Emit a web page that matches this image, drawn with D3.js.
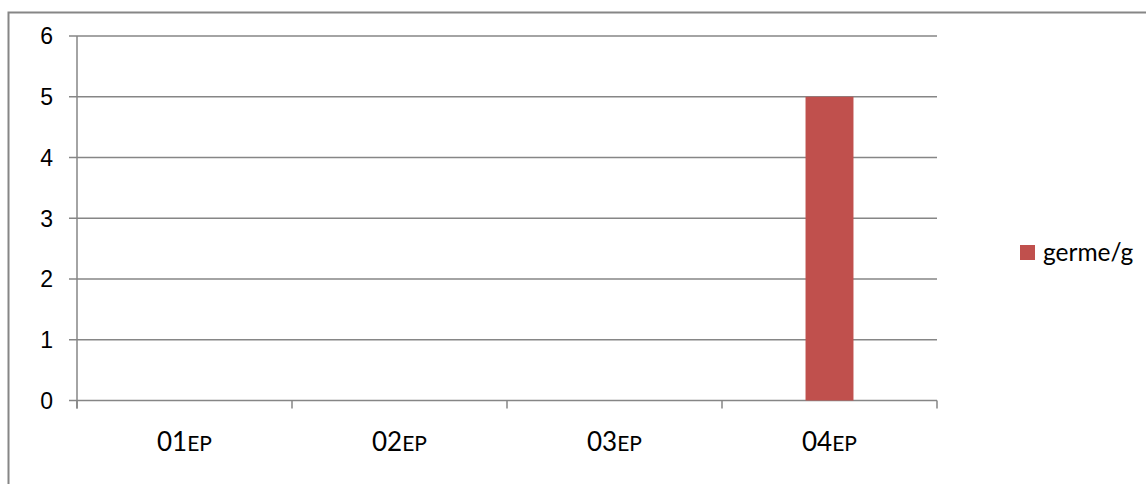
<!DOCTYPE html>
<html>
<head>
<meta charset="utf-8">
<script src="https://cdn.jsdelivr.net/npm/d3@7"></script>
<style>
  html, body { margin: 0; padding: 0; background: #fff; }
  svg { display: block; }
</style>
</head>
<body>
<svg id="chart" width="1146" height="484"></svg>
<script>
// Sample codes and their germ counts
const categories = ["01", "02", "03", "04"];
const categorySuffix = "EP";
const germCounts = [0, 0, 0, 5];
const seriesName = "germe/g";
const yTicks = [0, 1, 2, 3, 4, 5, 6];

const svg = d3.select("#chart");
const W = 1146, H = 484;
const plot = { left: 77, right: 937, top: 36, bottom: 400.5 };
const gridColor = "#868686";
const barColor = "#C0504D";

// Outer chart frame
svg.append("rect")
  .attr("x", 8.5).attr("y", 12.5)
  .attr("width", W + 10).attr("height", H + 10)
  .attr("fill", "none")
  .attr("stroke", gridColor)
  .attr("stroke-width", 2);

const x = d3.scaleBand()
  .domain(categories)
  .range([plot.left, plot.right])
  .paddingInner(0.777)
  .paddingOuter(0.3885);

const xEdges = d3.scaleLinear()
  .domain([0, categories.length])
  .range([plot.left, plot.right]);

const y = d3.scaleLinear()
  .domain([0, 6])
  .range([plot.bottom, plot.top]);

// Horizontal gridlines (with short tick stubs on the left)
svg.append("g")
  .selectAll("line")
  .data(yTicks)
  .join("line")
  .attr("x1", plot.left - 8).attr("x2", plot.right)
  .attr("y1", d => y(d)).attr("y2", d => y(d))
  .attr("stroke", gridColor)
  .attr("stroke-width", 1.5);

// Vertical axis line
svg.append("line")
  .attr("x1", plot.left).attr("x2", plot.left)
  .attr("y1", plot.top).attr("y2", plot.bottom + 8)
  .attr("stroke", gridColor)
  .attr("stroke-width", 1.5);

// Category boundary ticks below the baseline
svg.append("g")
  .selectAll("line")
  .data(d3.range(categories.length + 1))
  .join("line")
  .attr("x1", d => xEdges(d)).attr("x2", d => xEdges(d))
  .attr("y1", plot.bottom).attr("y2", plot.bottom + 8)
  .attr("stroke", gridColor)
  .attr("stroke-width", 1.5);

// Y tick labels
svg.append("g")
  .selectAll("text")
  .data(yTicks)
  .join("text")
  .attr("x", 53)
  .attr("y", d => y(d))
  .attr("dy", "0.36em")
  .attr("text-anchor", "end")
  .attr("font-family", "'Liberation Sans', Arial, sans-serif")
  .attr("font-size", 23)
  .attr("fill", "#000")
  .text(d => d);

// Bars
svg.append("g")
  .selectAll("rect")
  .data(categories.map((c, i) => ({ c, v: germCounts[i] })))
  .join("rect")
  .attr("x", d => x(d.c))
  .attr("width", x.bandwidth())
  .attr("y", d => y(d.v))
  .attr("height", d => y(0) - y(d.v))
  .attr("fill", barColor);

// Category labels: number followed by a smaller suffix
const catLabels = svg.append("g")
  .selectAll("text")
  .data(categories)
  .join("text")
  .attr("x", d => x(d) + x.bandwidth() / 2)
  .attr("y", 451)
  .attr("text-anchor", "middle")
  .attr("font-family", "Lato, 'Open Sans', sans-serif")
  .attr("fill", "#000");
catLabels.append("tspan").attr("font-size", 26).text(d => d);
catLabels.append("tspan").attr("font-size", 21).text(categorySuffix);

// Legend
const legend = svg.append("g").attr("transform", "translate(1020, 245)");
legend.append("rect")
  .attr("x", 0).attr("y", 0)
  .attr("width", 15).attr("height", 15)
  .attr("fill", barColor);
legend.append("text")
  .attr("x", 23).attr("y", 15.5)
  .attr("font-family", "Lato, 'Open Sans', sans-serif")
  .attr("font-size", 24.5)
  .attr("fill", "#000")
  .text(seriesName);
</script>
</body>
</html>
